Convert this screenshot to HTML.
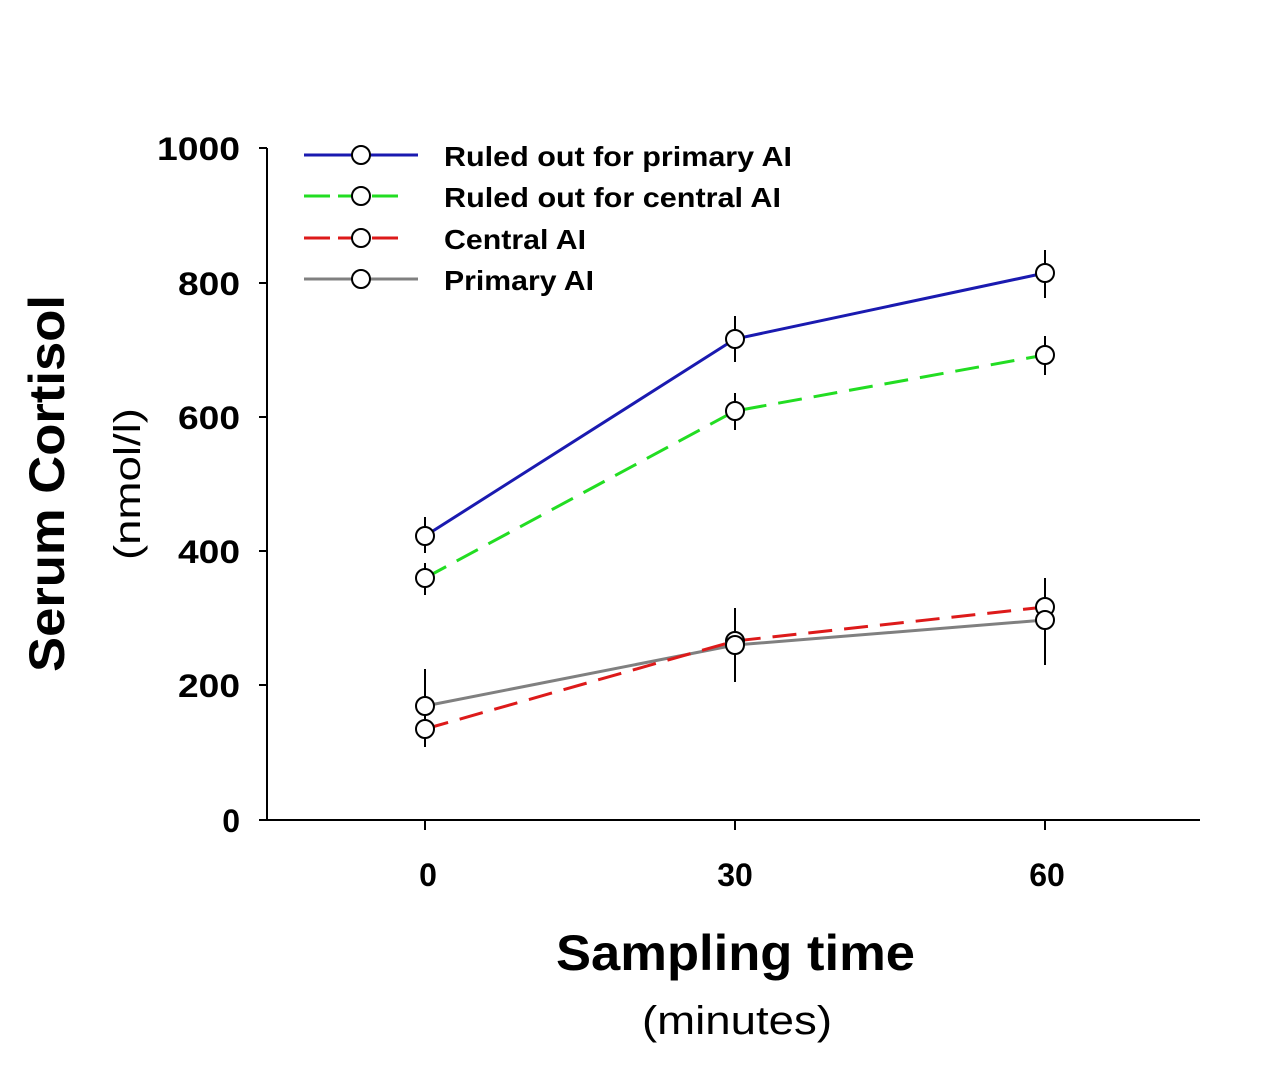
<!DOCTYPE html>
<html><head><meta charset="utf-8"><style>html,body{margin:0;padding:0;background:#fff}</style></head>
<body>
<svg width="1280" height="1061" viewBox="0 0 1280 1061" xmlns="http://www.w3.org/2000/svg" font-family="Liberation Sans, Arial, sans-serif">
<rect width="1280" height="1061" fill="#fff"/>
<g stroke="#000" stroke-width="2" fill="none">
<line x1="267" y1="148" x2="267" y2="821"/>
<line x1="266" y1="820" x2="1200" y2="820"/>
<line x1="259" y1="148" x2="267" y2="148"/>
<line x1="259" y1="283" x2="267" y2="283"/>
<line x1="259" y1="417" x2="267" y2="417"/>
<line x1="259" y1="551" x2="267" y2="551"/>
<line x1="259" y1="685" x2="267" y2="685"/>
<line x1="259" y1="820" x2="267" y2="820"/>
<line x1="425" y1="820" x2="425" y2="830"/>
<line x1="735" y1="820" x2="735" y2="830"/>
<line x1="1045" y1="820" x2="1045" y2="830"/>
</g>
<g font-weight="bold" font-size="32" text-anchor="end" fill="#000">
<text x="240" y="160" textLength="83" lengthAdjust="spacingAndGlyphs">1000</text>
<text x="240" y="295" textLength="62" lengthAdjust="spacingAndGlyphs">800</text>
<text x="240" y="429" textLength="62" lengthAdjust="spacingAndGlyphs">600</text>
<text x="240" y="563" textLength="62" lengthAdjust="spacingAndGlyphs">400</text>
<text x="240" y="697" textLength="62" lengthAdjust="spacingAndGlyphs">200</text>
<text x="240" y="832">0</text>
</g>
<g font-weight="bold" font-size="32" text-anchor="middle">
<text x="428" y="886">0</text>
<text x="735" y="886">30</text>
<text x="1047" y="886">60</text>
</g>
<text x="556" y="970" font-weight="bold" font-size="50" textLength="359" lengthAdjust="spacingAndGlyphs">Sampling time</text>
<text x="642" y="1034" font-size="40" textLength="190" lengthAdjust="spacingAndGlyphs">(minutes)</text>
<text transform="translate(64,672) rotate(-90)" font-weight="bold" font-size="50" textLength="377" lengthAdjust="spacingAndGlyphs">Serum Cortisol</text>
<text transform="translate(140,560) rotate(-90)" font-size="37" textLength="152" lengthAdjust="spacingAndGlyphs">(nmol/l)</text>
<g stroke="#000" stroke-width="2">
<line x1="425" y1="517" x2="425" y2="553"/><line x1="735" y1="316" x2="735" y2="362"/><line x1="1045" y1="250" x2="1045" y2="298"/>
<line x1="425" y1="563" x2="425" y2="595"/><line x1="735" y1="393" x2="735" y2="430"/><line x1="1045" y1="336" x2="1045" y2="375"/>
<line x1="425" y1="669" x2="425" y2="747"/><line x1="735" y1="608" x2="735" y2="682"/><line x1="1045" y1="578" x2="1045" y2="665"/>
</g>
<g fill="none" stroke-width="3">
<polyline points="425,536 735,339 1045,273" stroke="#1a1ab0"/>
<polyline points="425,578 735,411 1045,355" stroke="#22dd22" stroke-dasharray="24,12"/>
<polyline points="425,706 735,645 1045,620" stroke="#808080"/>
<polyline points="425,729 735,641 1045,607" stroke="#dd1a1a" stroke-dasharray="24,12"/>
</g>
<g fill="#fff" stroke="#000" stroke-width="2">
<circle cx="425" cy="536" r="9"/><circle cx="735" cy="339" r="9"/><circle cx="1045" cy="273" r="9"/>
<circle cx="425" cy="578" r="9"/><circle cx="735" cy="411" r="9"/><circle cx="1045" cy="355" r="9"/>
<circle cx="425" cy="729" r="9"/><circle cx="735" cy="641" r="9"/><circle cx="1045" cy="607" r="9"/>
<circle cx="425" cy="706" r="9"/><circle cx="735" cy="645" r="9"/><circle cx="1045" cy="620" r="9"/>
</g>
<g stroke-width="3">
<line x1="304" y1="155" x2="418" y2="155" stroke="#1a1ab0"/>
<line x1="304" y1="196" x2="406" y2="196" stroke="#22dd22" stroke-dasharray="26,8"/>
<line x1="304" y1="238" x2="406" y2="238" stroke="#dd1a1a" stroke-dasharray="26,8"/>
<line x1="304" y1="279" x2="418" y2="279" stroke="#808080"/>
</g>
<g fill="#fff" stroke="#000" stroke-width="2">
<circle cx="361" cy="155" r="9"/><circle cx="361" cy="196" r="9"/><circle cx="361" cy="238" r="9"/><circle cx="361" cy="279" r="9"/>
</g>
<g font-weight="bold" font-size="28">
<text x="444" y="166" textLength="348" lengthAdjust="spacingAndGlyphs">Ruled out for primary AI</text>
<text x="444" y="207" textLength="337" lengthAdjust="spacingAndGlyphs">Ruled out for central AI</text>
<text x="444" y="249" textLength="142" lengthAdjust="spacingAndGlyphs">Central AI</text>
<text x="444" y="290" textLength="150" lengthAdjust="spacingAndGlyphs">Primary AI</text>
</g>
</svg>
</body></html>
